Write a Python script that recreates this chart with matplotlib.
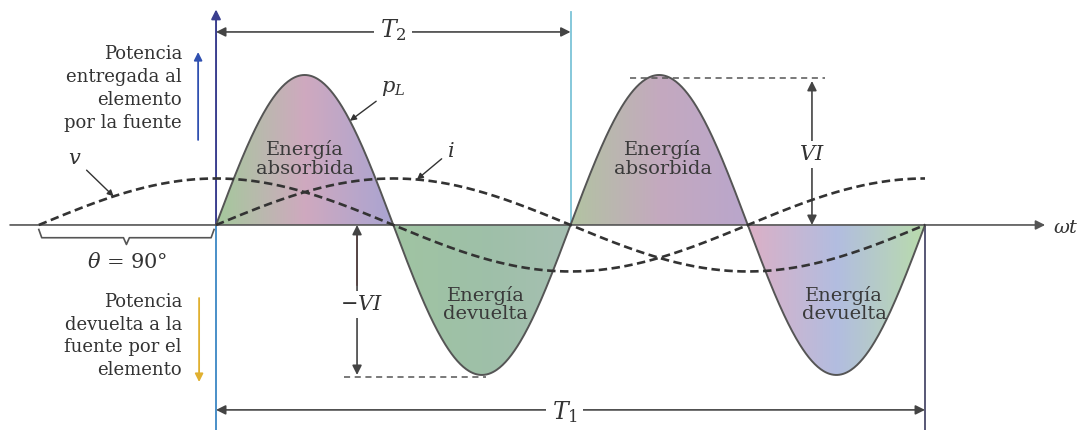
import numpy as np
import matplotlib
matplotlib.use('Agg')
import matplotlib.pyplot as plt
from matplotlib.colors import LinearSegmentedColormap
from matplotlib.patches import Polygon

plt.rcParams['font.family'] = 'DejaVu Serif'
plt.rcParams['mathtext.fontset'] = 'dejavuserif'

# Values (x in degrees of wt, y in units of VI) ---------------------------
VI = 1.0                 # peak of p_L
VI_AMP = 0.31            # drawn amplitude of v and i
THETA = 90               # phase of v ahead of i
v_range = [-90, 360]
i_range = [0, 360]
pL_range = [0, 360]
lobe_edges = [0, 90, 180, 270, 360]
lobe_colors = [
    ['#a4c99c', '#cfa9bf', '#a9a4d2'],   # absorbida 1
    ['#a0c4a2', '#9ec0a8', '#a6bfb2'],   # devuelta 1
    ['#b2c3a2', '#c4a9bf', '#b9a6cc'],   # absorbida 2
    ['#dcb0c6', '#b2bde0', '#b9dcab'],   # devuelta 2
]
lobe_text = ['Energía\nabsorbida', 'Energía\ndevuelta',
             'Energía\nabsorbida', 'Energía\ndevuelta']
lobe_text_x = [45, 137, 227, 319]

# Figure: axes fill the whole canvas ----------------------------------
fig = plt.figure(figsize=(10.79, 4.30), dpi=100)
ax = fig.add_axes([0, 0, 1, 1])
ax.set_axis_off()
XL = (-109.7, 438.2)
YL = (-1.367, 1.5)

# Curves
wt_p = np.linspace(pL_range[0], pL_range[1], 721)
p_L = VI * np.sin(np.radians(2 * wt_p))
wt_v = np.linspace(v_range[0], v_range[1], 500)
v = VI_AMP * np.sin(np.radians(wt_v + THETA))
wt_i = np.linspace(i_range[0], i_range[1], 400)
i = VI_AMP * np.sin(np.radians(wt_i))

# Gradient-filled lobes
for k in range(4):
    m = (wt_p >= lobe_edges[k]) & (wt_p <= lobe_edges[k + 1])
    x, y = wt_p[m], p_L[m]
    verts = np.column_stack([np.r_[x, x[::-1]], np.r_[y, np.zeros_like(y)]])
    patch = Polygon(verts, closed=True, fc='none', ec='none')
    ax.add_patch(patch)
    cmap = LinearSegmentedColormap.from_list('lobe%d' % k, lobe_colors[k])
    grad = np.linspace(0, 1, 256).reshape(1, -1)
    im = ax.imshow(grad, cmap=cmap, aspect='auto', origin='lower',
                   extent=[x.min(), x.max(), min(y.min(), 0), max(y.max(), 0)],
                   zorder=1, interpolation='bilinear')
    im.set_clip_path(patch)
    yc = 0.44 if k % 2 == 0 else -0.53
    ax.text(lobe_text_x[k], yc, lobe_text[k], ha='center', va='center',
            fontsize=14, color='#3a3a3a', linespacing=1.05, zorder=5)

ax.plot(wt_p, p_L, color='#555555', lw=1.4, zorder=3)
ax.plot(wt_v, v, color='#333333', lw=1.9, dashes=(3.2, 1.7), zorder=4)
ax.plot(wt_i, i, color='#333333', lw=1.9, dashes=(3.2, 1.7), zorder=4)

# Axes lines
ax.annotate('', xy=(421, 0), xytext=(-104.6, 0),
            arrowprops=dict(arrowstyle='-|>', color='#555555', lw=1.2,
                            mutation_scale=14, shrinkA=0, shrinkB=0), zorder=2)
ax.text(425, -0.02, r'$\omega t$', fontsize=14, color='#333333',
        ha='left', va='center')
ax.plot([0, 0], [0, YL[0]], color='#4a8fc8', lw=1.4, zorder=2)
ax.annotate('', xy=(0, 1.437), xytext=(0, 0),
            arrowprops=dict(arrowstyle='-|>', color='#3b3f8f', lw=1.4,
                            mutation_scale=14, shrinkA=0, shrinkB=0), zorder=2)
ax.plot([180, 180], [0, 1.42], color='#7cc4d8', lw=1.3, zorder=2)
ax.plot([360, 360], [0, YL[0]], color='#4a4a6a', lw=1.3, zorder=2)

# Period dimension lines
dim = dict(arrowstyle='<|-|>', color='#444444', lw=1.2, mutation_scale=14,
           shrinkA=0, shrinkB=0)
ax.annotate('', xy=(0, 1.287), xytext=(180, 1.287), arrowprops=dim)
ax.text(90, 1.30, r'$T_2$', fontsize=17, ha='center', va='center',
        color='#333333', bbox=dict(fc='white', ec='none', pad=4))
ax.annotate('', xy=(0, -1.233), xytext=(360, -1.233), arrowprops=dim)
ax.text(177, -1.25, r'$T_1$', fontsize=17, ha='center', va='center',
        color='#333333', bbox=dict(fc='white', ec='none', pad=4))

# VI and -VI markers
ax.plot([210, 309], [0.98, 0.98], color='#555555', lw=1.1, ls=(0, (4, 3)))
ax.annotate('', xy=(302.6, 0.96), xytext=(302.6, 0), arrowprops=dim)
ax.text(302.6, 0.47, r'$VI$', fontsize=15, ha='center', va='center',
        color='#333333', bbox=dict(fc='white', ec='none', pad=3))
ax.plot([65, 137], [-1.013, -1.013], color='#555555', lw=1.1, ls=(0, (4, 3)))
ax.annotate('', xy=(71.6, -1.0), xytext=(71.6, 0), arrowprops=dim)
ax.plot([71.6, 71.6], [-0.06, -0.4], color='#b04040', lw=1.2)
ax.text(74, -0.53, r'$-VI$', fontsize=15, ha='center', va='center',
        color='#333333', bbox=dict(fc='white', ec='none', pad=3))

# Curve labels
lab = dict(arrowstyle='-|>', color='#333333', lw=1.0, mutation_scale=9,
           shrinkA=2, shrinkB=0)
ax.annotate(r'$p_L$', xy=(68, VI * np.sin(np.radians(136))),
            xytext=(90, 0.91), fontsize=15, ha='center', va='center',
            color='#333333', arrowprops=lab)
ax.annotate(r'$i$', xy=(102, VI_AMP * np.sin(np.radians(102))),
            xytext=(119, 0.49), fontsize=15, ha='center', va='center',
            color='#333333', arrowprops=lab)
ax.annotate(r'$v$', xy=(-52, VI_AMP * np.sin(np.radians(-52 + THETA))),
            xytext=(-71.6, 0.44), fontsize=15, ha='center', va='center',
            color='#333333', arrowprops=lab)

# Phase brace
bx = np.array([-90, -88.5, -47, -45.5, -44, -2.5, -1])
by = np.array([-0.03, -0.085, -0.085, -0.13, -0.085, -0.085, -0.03])
ax.plot(bx, by, color='#555555', lw=1.2)
ax.text(-45, -0.25, r'$\theta$ = 90°', fontsize=15, ha='center', va='center',
        color='#333333')

# Power direction notes
ax.text(-17.3, 0.91, 'Potencia\nentregada al\nelemento\npor la fuente',
        ha='right', va='center', fontsize=13, color='#333333', linespacing=1.35)
ax.annotate('', xy=(-9.1, 1.153), xytext=(-9.1, 0.567),
            arrowprops=dict(arrowstyle='-|>', color='#3050b0', lw=1.3,
                            mutation_scale=12, shrinkA=0, shrinkB=0))
ax.text(-17.3, -0.74, 'Potencia\ndevuelta a la\nfuente por el\nelemento',
        ha='right', va='center', fontsize=13, color='#333333', linespacing=1.35)
ax.annotate('', xy=(-8.6, -1.047), xytext=(-8.6, -0.487),
            arrowprops=dict(arrowstyle='-|>', color='#e0b030', lw=1.3,
                            mutation_scale=12, shrinkA=0, shrinkB=0))

ax.set_xlim(XL)
ax.set_ylim(YL)
fig.savefig('out.png', dpi=100)
